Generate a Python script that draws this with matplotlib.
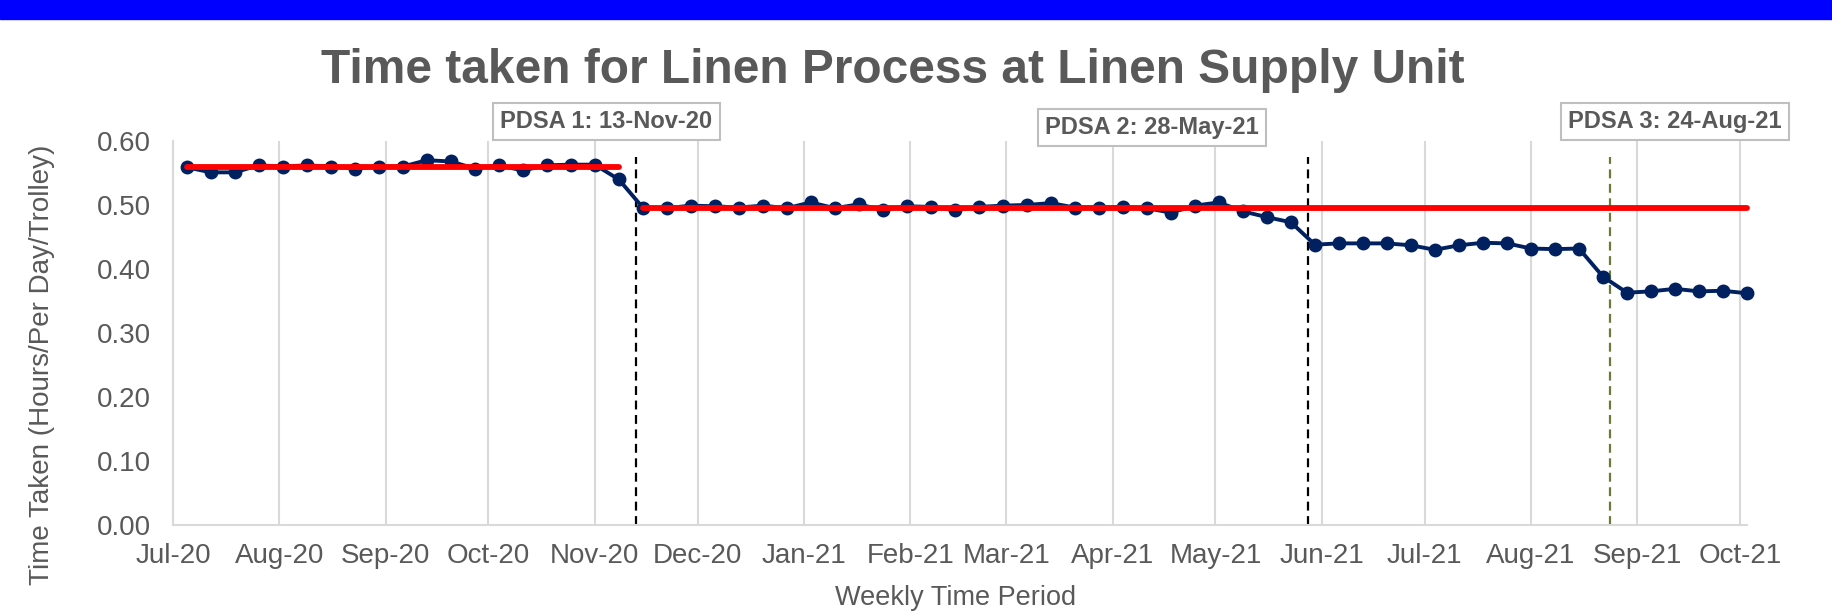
import matplotlib
matplotlib.use("Agg")
import matplotlib.pyplot as plt
import matplotlib.dates as mdates
from matplotlib.patches import Rectangle
import numpy as np
import pandas as pd

plt.rcParams['font.family'] = ['Liberation Sans', 'DejaVu Sans']

# ---- data ----
start_date = "2020-07-05"
n_weeks = 66
values = [
    0.559, 0.551, 0.551, 0.562, 0.560, 0.562, 0.560, 0.557, 0.560, 0.560,
    0.570, 0.568, 0.557, 0.562, 0.554, 0.562, 0.563, 0.563, 0.540, 0.496,
    0.495, 0.499, 0.498, 0.496, 0.499, 0.495, 0.504, 0.495, 0.501, 0.492,
    0.498, 0.497, 0.492, 0.497, 0.499, 0.500, 0.503, 0.496, 0.496, 0.497,
    0.495, 0.488, 0.499, 0.504, 0.490, 0.481, 0.473,
    0.438, 0.440, 0.440, 0.440, 0.437, 0.430, 0.437, 0.441, 0.440, 0.432,
    0.431, 0.432, 0.388, 0.363, 0.365, 0.369, 0.365, 0.366, 0.362,
]
mean_starts = ["2020-07-05", "2020-11-15"]
mean_ends = ["2020-11-08", "2021-10-03"]
mean_values = [0.560, 0.495]
pdsa_dates = ["2020-11-13", "2021-05-28", "2021-08-24"]
pdsa_labels = ["PDSA 1: 13-Nov-20", "PDSA 2: 28-May-21", "PDSA 3: 24-Aug-21"]
pdsa_colors = ["black", "black", "#6B7A3A"]
pdsa_top = 0.575
month_ticks = pd.date_range("2020-07-01", "2021-10-01", freq="MS")
y_ticks = [0.0, 0.1, 0.2, 0.3, 0.4, 0.5, 0.6]

dates = pd.date_range(start_date, periods=n_weeks, freq="7D")

GRAY = "#595959"
fig = plt.figure(figsize=(18.32, 6.13), dpi=100)
fig.patches.append(Rectangle((0, 1 - 19 / 613), 1, 19 / 613, transform=fig.transFigure,
                             color="#0000FF", zorder=0))

ax = fig.add_axes([0.0944, 0.1436, 0.8592, 0.6264])
ax.set_xlim(pd.Timestamp("2020-07-01"), pd.Timestamp("2021-10-03"))
ax.set_ylim(0, 0.6)

ax.set_xticks(month_ticks)
ax.xaxis.set_major_formatter(mdates.DateFormatter("%b-%y"))
ax.set_yticks(y_ticks)
ax.set_yticklabels([f"{v:.2f}" for v in y_ticks])
ax.tick_params(axis="both", length=0, labelsize=20, labelcolor=GRAY)
ax.tick_params(axis="x", pad=13)
ax.tick_params(axis="y", pad=16)
ax.grid(axis="x", color="#D9D9D9", linewidth=1.5)
ax.set_axisbelow(True)
for s in ["top", "right"]:
    ax.spines[s].set_visible(False)
for s in ["left", "bottom"]:
    ax.spines[s].set_color("#D9D9D9")
    ax.spines[s].set_linewidth(1.5)

ax.plot(dates, values, color="#002060", linewidth=2.8, marker="o", markersize=9,
        clip_on=False, zorder=3)
for s, e, v in zip(mean_starts, mean_ends, mean_values):
    ax.plot([pd.Timestamp(s), pd.Timestamp(e)], [v, v], color="#FF0000", linewidth=4.2,
            solid_capstyle="round", clip_on=False, zorder=4)
for d, c in zip(pdsa_dates, pdsa_colors):
    ax.plot([pd.Timestamp(d), pd.Timestamp(d)], [0, pdsa_top], color=c, linewidth=1.6,
            linestyle=(0, (4, 2.5)), zorder=2)

label_pos = [(0.3310, 0.802), (0.6288, 0.792), (0.9143, 0.802)]
for (x, y), t in zip(label_pos, pdsa_labels):
    fig.text(x, y, t, ha="center", va="center", fontsize=17, fontweight="bold", color=GRAY,
             bbox=dict(boxstyle="square,pad=0.3", facecolor="white", edgecolor="#BFBFBF",
                       linewidth=1.5))

fig.text(0.4875, 0.8646, "Time taken for Linen Process at Linen Supply Unit", ha="center",
         va="baseline", fontsize=34.5, fontweight="bold", color=GRAY)
fig.text(0.023, 0.405, "Time Taken (Hours/Per Day/Trolley)", rotation=90, ha="center",
         va="center", fontsize=20, color=GRAY)
fig.text(0.5218, 0.0245, "Weekly Time Period", ha="center", va="center", fontsize=19.5,
         color=GRAY)

fig.savefig("out.png", dpi=100)
